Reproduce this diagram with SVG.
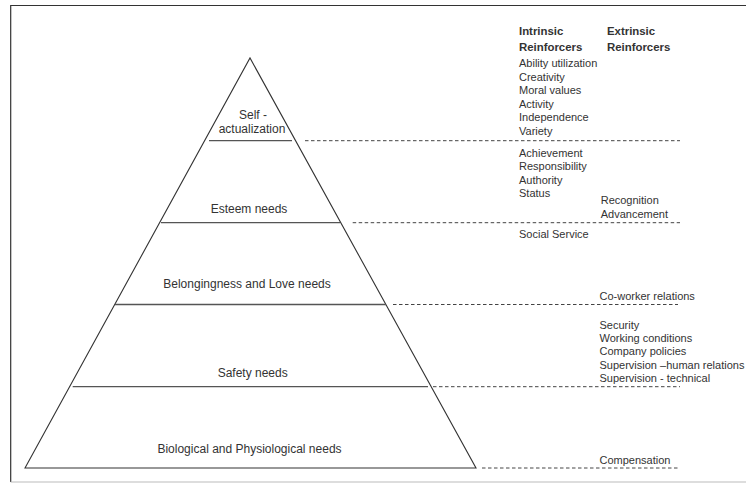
<svg xmlns="http://www.w3.org/2000/svg" width="746" height="483" viewBox="0 0 746 483">
<style>
.lbl{font-family:"Liberation Sans",Arial,sans-serif;font-size:12px;fill:#333;text-anchor:middle}
.item{font-family:"Liberation Sans",Arial,sans-serif;font-size:11px;fill:#333}
.hdr{font-family:"Liberation Sans",Arial,sans-serif;font-size:11.4px;font-weight:bold;fill:#333}
.tier{stroke:#555;stroke-width:1.3;fill:none}
.dash{stroke:#444;stroke-width:1;stroke-dasharray:3.5 2.5;fill:none}
</style>
<rect width="746" height="483" fill="#fff"/>
<g id="frame" fill="none">
<path d="M746 5.5 H10.7 V482" stroke="#333" stroke-width="1.2"/>
<path d="M10.7 482 H746" stroke="#bbb" stroke-width="1"/>
</g>
<g id="pyramid">
<path d="M25 468 L250 58 L476 468 Z" fill="none" stroke="#333" stroke-width="1.1"/>
</g>
<g id="self-actualization">
<line class="tier" x1="209" y1="140.7" x2="292" y2="140.7"/>
<text class="lbl" x="253" y="119">Self -</text>
<text class="lbl" x="252" y="133">actualization</text>
</g>
<g id="esteem">
<line class="tier" x1="161" y1="222.7" x2="340" y2="222.7"/>
<text class="lbl" x="249" y="213.3">Esteem needs</text>
</g>
<g id="belongingness">
<line class="tier" x1="115" y1="304.5" x2="386" y2="304.5"/>
<text class="lbl" x="247" y="288.3">Belongingness and Love needs</text>
</g>
<g id="safety">
<line class="tier" x1="72.7" y1="386.7" x2="428" y2="386.7"/>
<text class="lbl" x="252.7" y="376.7">Safety needs</text>
</g>
<g id="biological">
<text class="lbl" x="249.5" y="452.7">Biological and Physiological needs</text>
</g>
<g id="connectors">
<line class="dash" x1="305" y1="140.7" x2="680" y2="140.7"/>
<line class="dash" x1="352.7" y1="222.7" x2="680" y2="222.7"/>
<line class="dash" x1="393" y1="304.5" x2="678" y2="304.5"/>
<line class="dash" x1="433" y1="386.7" x2="680" y2="386.7"/>
<line class="dash" x1="482" y1="468" x2="680" y2="468"/>
</g>
<g id="headers">
<text class="hdr" x="519" y="35">Intrinsic</text>
<text class="hdr" x="519" y="50.7">Reinforcers</text>
<text class="hdr" x="607" y="35">Extrinsic</text>
<text class="hdr" x="607" y="50.7">Reinforcers</text>
</g>
<g id="intrinsic-self">
<text class="item" x="519" y="67">Ability utilization</text>
<text class="item" x="519" y="80.5">Creativity</text>
<text class="item" x="519" y="94">Moral values</text>
<text class="item" x="519" y="107.5">Activity</text>
<text class="item" x="519" y="121">Independence</text>
<text class="item" x="519" y="134.5">Variety</text>
</g>
<g id="intrinsic-esteem">
<text class="item" x="519" y="156.7">Achievement</text>
<text class="item" x="519" y="170.2">Responsibility</text>
<text class="item" x="519" y="183.7">Authority</text>
<text class="item" x="519" y="197.2">Status</text>
</g>
<g id="extrinsic-esteem">
<text class="item" x="600.7" y="204.3">Recognition</text>
<text class="item" x="600.7" y="217.7">Advancement</text>
</g>
<g id="intrinsic-belonging">
<text class="item" x="519" y="238.3">Social Service</text>
</g>
<g id="extrinsic-belonging">
<text class="item" x="599.5" y="300">Co-worker relations</text>
</g>
<g id="extrinsic-safety">
<text class="item" x="599.5" y="328.7">Security</text>
<text class="item" x="599.5" y="342">Working conditions</text>
<text class="item" x="599.5" y="355.4">Company policies</text>
<text class="item" x="599.5" y="368.6">Supervision –human relations</text>
<text class="item" x="599.5" y="381.9">Supervision - technical</text>
</g>
<g id="extrinsic-biological">
<text class="item" x="599.5" y="464.3">Compensation</text>
</g>
</svg>
